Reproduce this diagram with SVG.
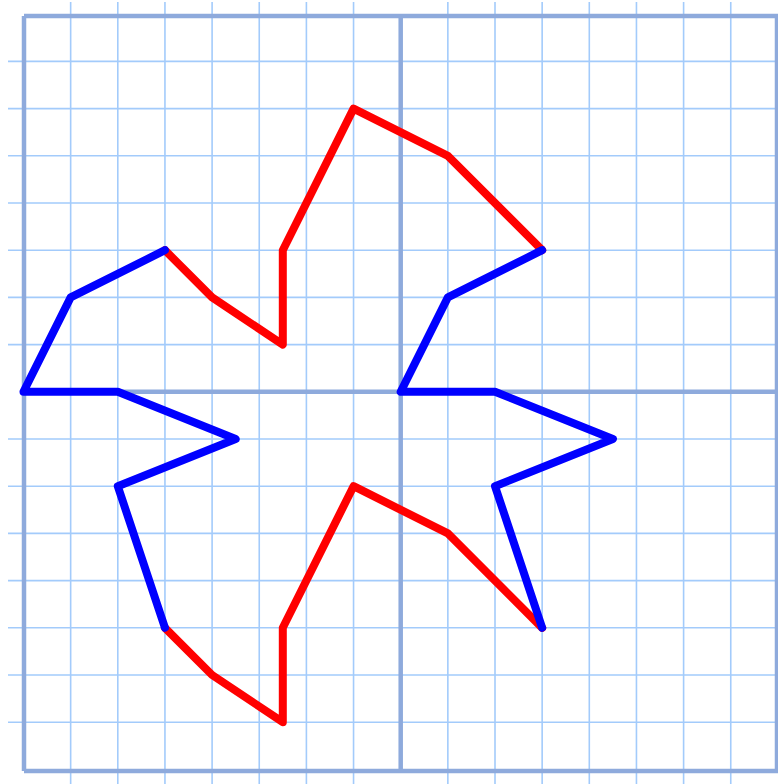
<svg xmlns="http://www.w3.org/2000/svg" width="778" height="784" viewBox="0 0 778 784">
<style>
.thin{stroke:#a3cbfb;stroke-width:1.6;fill:none}
.major{stroke:#8eaadc;stroke-width:4.5;fill:none}
.red{stroke:#ff0000;stroke-width:8;fill:none;stroke-linejoin:round;stroke-linecap:round}
.blue{stroke:#0000ff;stroke-width:8;fill:none;stroke-linejoin:round;stroke-linecap:round}
</style>
<rect width="778" height="784" fill="#ffffff"/>
<g id="grid">
<g class="thin">
<path d="M70.65 2V784M117.8 2V784M164.95 2V784M212.1 2V784M259.25 2V784M306.4 2V784M353.55 2V784M447.85 2V784M495 2V784M542.15 2V784M589.3 2V784M636.45 2V784M683.6 2V784M730.75 2V784"/>
<path d="M8 61.4H778M8 108.6H778M8 155.8H778M8 203H778M8 250.2H778M8 297.4H778M8 344.6H778M8 439H778M8 486.2H778M8 533.4H778M8 580.6H778M8 627.8H778M8 675H778M8 722.2H778"/>
</g>
<g class="major">
<path d="M24 16H778M24 771H778M24 16V771M777 16V771M400.7 16V771M24 391.8H778"/>
</g>
</g>
<g id="connectors">
<polyline id="red-top" class="red" points="164.95,250.2 212.1,297.4 282.8,344.6 282.8,250.2 353.55,108.6 447.85,155.8 542.15,250.2"/>
<polyline id="red-bottom" class="red" points="542.15,627.8 447.85,533.4 353.55,486.2 282.8,627.8 282.8,722.2 212.1,675 164.95,627.8"/>
<polyline id="blue-right" class="blue" points="542.15,250.2 447.85,297.4 400.7,391.8 495,391.8 612.9,439 495,486.2 542.15,627.8"/>
<polyline id="blue-left" class="blue" points="164.95,627.8 117.8,486.2 235.68,439 117.8,391.8 23.5,391.8 70.65,297.4 164.95,250.2"/>
</g>
</svg>
